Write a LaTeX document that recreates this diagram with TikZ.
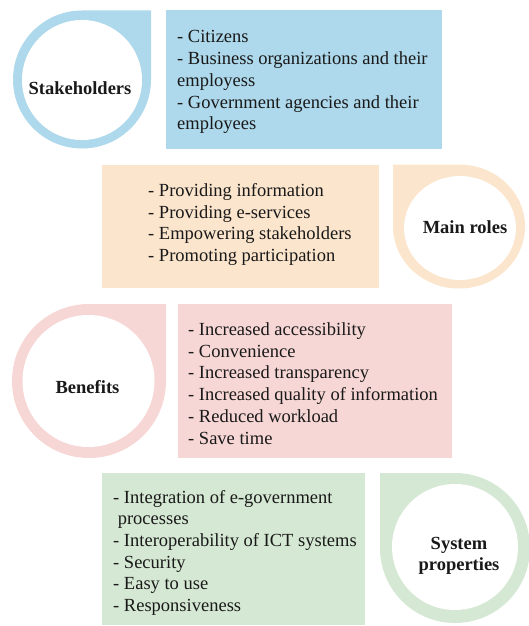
\documentclass[tikz,border=0pt]{standalone}
\usepackage{fontspec}
\setmainfont{Liberation Serif}
\definecolor{skyfill}{RGB}{174,216,235}
\definecolor{peachfill}{RGB}{251,229,205}
\definecolor{rosefill}{RGB}{246,215,213}
\definecolor{sagefill}{RGB}{213,232,211}
\definecolor{ink}{RGB}{25,25,25}
\tikzset{
  listtext/.style={inner sep=0pt, anchor=base west, text=ink,
    font=\fontsize{18.5}{21.7}\selectfont},
  headtext/.style={inner sep=0pt, anchor=base, text=ink,
    font=\fontsize{18.5}{21.7}\selectfont\bfseries},
}
\begin{document}
\begin{tikzpicture}[x=1pt,y=1pt]
\useasboundingbox (0,0) rectangle (528,-626);

% ---- Stakeholders ----
\fill[skyfill] (166,-10) rectangle (442,-149);
\fill[skyfill] (82,-10.5) -- (151,-10.5) -- (151,-79.5)
  arc[start angle=0, end angle=-270, radius=69] -- cycle;
\fill[white] (82,-80) circle[radius=60];
\node[headtext] (stake) at (80,-94) {Stakeholders};
\node[listtext] (stakelist) at (177,-43) {\begin{tabular}[t]{@{}l@{}}
- Citizens\\
- Business organizations and their\\
employess\\
- Government agencies and their\\
employees
\end{tabular}};

% ---- Main roles ----
\fill[peachfill] (102,-165) rectangle (379,-288);
\fill[peachfill] (393,-226.5) -- (393,-164.5) -- (459,-164.5)
  arc[start angle=90, end angle=-180, x radius=66, y radius=62] -- cycle;
\fill[white] (460,-228) ellipse[x radius=56, y radius=52];
\node[headtext] (roles) at (465,-233) {Main roles};
\node[listtext] (roleslist) at (148,-196.5) {\begin{tabular}[t]{@{}l@{}}
- Providing information\\
- Providing e-services\\
- Empowering stakeholders\\
- Promoting participation
\end{tabular}};

% ---- Benefits ----
\fill[rosefill] (178,-304) rectangle (452,-458);
\fill[rosefill] (89,-304) -- (166,-304) -- (166,-381)
  arc[start angle=0, end angle=-270, radius=77] -- cycle;
\fill[white] (88.5,-381) circle[radius=66];
\node[headtext] (benefits) at (87.5,-393) {Benefits};
\node[listtext] (benefitslist) at (188,-335.5) {\begin{tabular}[t]{@{}l@{}}
- Increased accessibility\\
- Convenience\\
- Increased transparency\\
- Increased quality of information\\
- Reduced workload\\
- Save time
\end{tabular}};

% ---- System properties ----
\fill[sagefill] (102,-473) rectangle (365,-625);
\fill[sagefill] (380,-548) -- (380,-473) -- (455,-473)
  arc[start angle=90, end angle=-180, radius=75] -- cycle;
\fill[white] (455,-547) circle[radius=63];
\node[headtext] (system) at (459,-549) {\begin{tabular}[t]{@{}c@{}}
System\\ properties
\end{tabular}};
\node[listtext] (systemlist) at (113,-503) {\begin{tabular}[t]{@{}l@{}}
- Integration of e-government\\
\hspace{0.25em}processes\\
- Interoperability of ICT systems\\
- Security\\
- Easy to use\\
- Responsiveness
\end{tabular}};
\end{tikzpicture}
\end{document}
